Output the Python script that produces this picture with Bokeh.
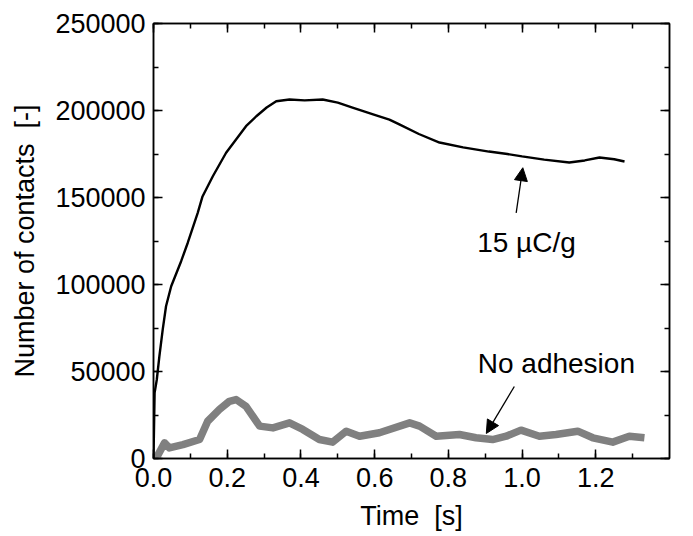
from bokeh.plotting import figure
from bokeh.models import (LinearAxis, SingleIntervalTicker, PrintfTickFormatter, Range1d,
                          Arrow, NormalHead, Label)
from bokeh.embed import file_html
from bokeh.resources import INLINE

# 15 uC/g series
t_charged = [0.0, 0.003, 0.009, 0.016, 0.025, 0.034, 0.048, 0.075, 0.093, 0.12, 0.133, 0.161,
             0.197, 0.224, 0.251, 0.279, 0.307, 0.333, 0.369, 0.41, 0.459, 0.5, 0.54, 0.6, 0.64,
             0.667, 0.72, 0.776, 0.84, 0.91, 0.96, 1.0, 1.06, 1.128, 1.17, 1.21, 1.25, 1.278]
n_charged = [0, 37700, 45400, 58800, 74100, 87500, 99000, 113400, 124000, 141200, 150600, 162200,
             175700, 183300, 191000, 196700, 201700, 205300, 206300, 205800, 206300, 204500,
             201700, 197500, 194800, 192000, 186500, 181600, 178800, 176400, 175000, 173600,
             171800, 170100, 171300, 173000, 172000, 170700]

# No adhesion series
t_none = [0.0, 0.007, 0.03, 0.043, 0.08, 0.125, 0.147, 0.179, 0.206, 0.224, 0.251, 0.288,
          0.324, 0.369, 0.405, 0.45, 0.486, 0.523, 0.559, 0.613, 0.695, 0.722, 0.767, 0.83,
          0.875, 0.92, 0.957, 0.997, 1.047, 1.092, 1.151, 1.192, 1.246, 1.291, 1.332]
n_none = [0, 0, 9000, 6100, 8000, 10900, 21400, 28200, 32900, 33900, 30000, 18600,
          17600, 20500, 16700, 10900, 9400, 15700, 12800, 14800, 20500, 18600, 12800, 13800,
          11900, 10900, 12800, 16300, 12800, 13800, 15700, 11900, 9400, 12800, 11900]

FONT = "Liberation Sans"
FS = "27px"

p = figure(frame_width=516, frame_height=435, output_backend="svg", toolbar_location=None,
           x_range=Range1d(0, 1.4), y_range=Range1d(0, 250000),
           min_border_left=153, min_border_right=10, min_border_top=23, min_border_bottom=56,
           x_axis_label="Time \u00a0[s]", y_axis_label="Number of contacts \u00a0[-]")
p.background_fill_color = "white"
p.border_fill_color = "white"
p.outline_line_color = "black"
p.outline_line_width = 1.5
p.xgrid.visible = False
p.ygrid.visible = False

xt = SingleIntervalTicker(interval=0.2, num_minor_ticks=2)
yt = SingleIntervalTicker(interval=50000, num_minor_ticks=2)

def style(ax, labels=True):
    ax.axis_line_color = "black"
    ax.axis_line_width = 1.5
    ax.major_tick_in = 9
    ax.major_tick_out = 0
    ax.minor_tick_in = 5
    ax.minor_tick_out = 0
    ax.major_tick_line_color = "black"
    ax.minor_tick_line_color = "black"
    ax.major_tick_line_width = 1.5
    ax.minor_tick_line_width = 1.5
    ax.major_label_text_font = FONT
    ax.major_label_text_font_size = FS
    ax.major_label_text_color = "black"
    ax.axis_label_text_font = FONT
    ax.axis_label_text_font_size = FS
    ax.axis_label_text_font_style = "normal"
    ax.axis_label_text_color = "black"
    if not labels:
        ax.major_label_text_font_size = "0px"
        ax.major_label_text_alpha = 0
        ax.major_label_standoff = 0

xa = p.xaxis[0]
xa.ticker = xt
xa.formatter = PrintfTickFormatter(format="%.1f")
xa.major_label_standoff = 9
xa.axis_label_standoff = 11
style(xa)

ya = p.yaxis[0]
ya.ticker = yt
ya.formatter = PrintfTickFormatter(format="%d")
ya.major_label_standoff = 8
ya.axis_label_standoff = 12
style(ya)

top = LinearAxis(ticker=SingleIntervalTicker(interval=0.2, num_minor_ticks=2))
style(top, labels=False)
p.add_layout(top, "above")
right = LinearAxis(ticker=SingleIntervalTicker(interval=50000, num_minor_ticks=2))
style(right, labels=False)
p.add_layout(right, "right")

p.line(t_none, n_none, line_color="#808080", line_width=7.5, line_join="round")
p.line(t_charged, n_charged, line_color="black", line_width=2.4, line_join="round")

# annotations
p.add_layout(Arrow(end=NormalHead(size=13, fill_color="black", line_color="black"),
                   x_start=0.984, y_start=141200, x_end=1.002, y_end=167100,
                   line_color="black", line_width=1.3))
p.add_layout(Label(x=1.012, y=124100, text="15 µC/g", text_font=FONT, text_font_size="28px",
                   text_align="center", text_baseline="middle", text_color="black"))
p.add_layout(Arrow(end=NormalHead(size=13, fill_color="black", line_color="black"),
                   x_start=0.979, y_start=41400, x_end=0.903, y_end=14400,
                   line_color="black", line_width=1.3))
p.add_layout(Label(x=1.093, y=54600, text="No adhesion", text_font=FONT, text_font_size="28px",
                   text_align="center", text_baseline="middle", text_color="black"))

open("out.html", "w").write(file_html(p, INLINE))
